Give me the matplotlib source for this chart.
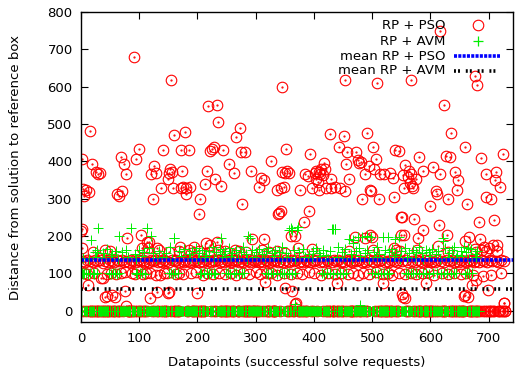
import numpy as np
import matplotlib
matplotlib.use('Agg')
import matplotlib.pyplot as plt

plt.rcParams['font.family'] = ['DejaVu Sans']
plt.rcParams['lines.scale_dashes'] = False

# number of datapoints per series and their means
N_PSO = 730
N_AVM = 685
MEAN_PSO = 136
MEAN_AVM = 59

# RP + PSO: (datapoint, distance), everything not listed sits at 0
pso_high = [
    (0, 214), (1, 406), (2, 218), (3, 327), (6, 307), (8, 324), (14, 317), (15, 482), (19, 392),
    (26, 371), (30, 367), (32, 368), (61, 313), (65, 307), (69, 411), (71, 322), (74, 393),
    (77, 367), (91, 679), (94, 406), (99, 433), (121, 367), (124, 300), (126, 389), (129, 370),
    (138, 329), (141, 430), (149, 352), (151, 369), (153, 379), (154, 618), (157, 372),
    (158, 330), (160, 472), (171, 330), (172, 430), (174, 373), (175, 331), (178, 478),
    (180, 328), (181, 312), (185, 431), (188, 332), (202, 259), (205, 299), (213, 340),
    (216, 373), (218, 548), (221, 428), (225, 433), (228, 438), (231, 352), (234, 551),
    (236, 505), (240, 333), (244, 430), (255, 393), (262, 369), (266, 464), (273, 490),
    (274, 424), (276, 285), (281, 424), (292, 374), (306, 332), (310, 355), (315, 350),
    (327, 401), (336, 324), (338, 259), (340, 263), (343, 330), (344, 267), (345, 598),
    (346, 371), (348, 332), (350, 370), (352, 433), (353, 373), (357, 370), (376, 324),
    (383, 239), (385, 365), (390, 362), (392, 267), (393, 420), (396, 330), (402, 370),
    (403, 374), (404, 352), (407, 345), (408, 372), (409, 324), (411, 365), (413, 380),
    (416, 364), (417, 395), (419, 379), (421, 330), (428, 473), (429, 352), (430, 330),
    (437, 331), (443, 438), (445, 330), (451, 468), (453, 320), (454, 617), (455, 394),
    (457, 424), (460, 352), (472, 424), (475, 403), (477, 397), (481, 399), (482, 300),
    (488, 365), (492, 477), (494, 389), (496, 324), (498, 321), (501, 438), (503, 380),
    (507, 406), (509, 610), (511, 299), (514, 365), (520, 366), (531, 370), (536, 356),
    (537, 305), (540, 430), (547, 427), (549, 251), (551, 250), (553, 363), (555, 328),
    (557, 390), (561, 358), (564, 374), (565, 341), (566, 366), (567, 618), (568, 335),
    (570, 328), (572, 246), (575, 352), (581, 413), (587, 375), (588, 215), (599, 281),
    (605, 386), (610, 322), (611, 314), (615, 229), (616, 750), (617, 365), (623, 551),
    (627, 415), (631, 300), (634, 412), (635, 475), (642, 371), (645, 324), (648, 351),
    (659, 438), (663, 287), (677, 628), (680, 604), (684, 237), (687, 410), (695, 367),
    (696, 305), (704, 299), (709, 242), (711, 351), (713, 371), (720, 331), (724, 421),
]
pso_mid = [
    (1, 168), (21, 158), (41, 162), (49, 159), (79, 194), (103, 202), (104, 168), (113, 183),
    (115, 168), (117, 185), (130, 168), (134, 163), (152, 157), (169, 160), (170, 172),
    (186, 163), (189, 155), (194, 172), (203, 161), (215, 181), (220, 158), (222, 176),
    (233, 185), (235, 163), (248, 159), (254, 156), (265, 163), (271, 160), (283, 158),
    (294, 193), (311, 162), (314, 193), (323, 157), (337, 160), (351, 156), (361, 201),
    (367, 201), (373, 169), (397, 165), (460, 160), (471, 198), (487, 194), (497, 203),
    (500, 198), (502, 163), (538, 167), (541, 163), (548, 159), (550, 202), (554, 204),
    (577, 162), (579, 196), (614, 173), (628, 202), (631, 158), (660, 186), (667, 197),
    (677, 165), (679, 158), (685, 191), (688, 163), (692, 172), (695, 160), (701, 168),
    (707, 176), (714, 160), (715, 177),
]
pso_band = [
    (3, 134), (7, 131), (10, 136), (16, 133), (21, 130), (24, 137), (28, 132), (33, 135),
    (38, 129), (41, 134), (46, 131), (50, 136), (53, 133), (57, 130), (62, 135), (66, 132),
    (70, 137), (73, 131), (78, 134), (83, 130), (86, 136), (90, 133), (95, 131), (98, 135),
    (101, 132), (106, 136), (109, 130), (112, 134), (116, 131), (120, 135), (123, 132),
    (127, 137), (132, 130), (136, 134), (139, 131), (143, 136), (146, 133), (152, 130),
    (156, 135), (161, 132), (164, 137), (167, 131), (173, 134), (177, 130), (179, 136),
    (183, 133), (187, 131), (191, 135), (196, 132), (199, 137), (203, 131), (207, 134),
    (210, 130), (214, 136), (219, 133), (223, 131), (227, 135), (230, 132), (235, 137),
    (238, 130), (242, 134), (246, 131), (250, 136), (253, 133), (257, 130), (260, 135),
    (264, 132), (268, 137), (271, 131), (275, 134), (279, 130), (283, 136), (287, 133),
    (291, 131), (296, 135), (299, 132), (302, 137), (305, 130), (309, 134), (312, 131),
    (317, 136), (320, 133), (324, 130), (328, 135), (331, 132), (335, 137), (339, 131),
    (342, 134), (347, 130), (351, 136), (355, 133), (358, 131), (363, 135), (366, 132),
    (370, 137), (374, 130), (378, 134), (381, 131), (386, 136), (389, 133), (394, 130),
    (398, 135), (401, 132), (405, 137), (410, 131), (414, 134), (418, 130), (422, 136),
    (425, 133), (431, 131), (434, 135), (438, 132), (441, 137), (446, 130), (449, 134),
    (452, 131), (458, 136), (462, 133), (465, 130), (469, 135), (473, 132), (478, 137),
    (483, 131), (486, 134), (490, 130), (493, 136), (499, 133), (504, 131), (508, 135),
    (512, 132), (516, 137), (522, 130), (525, 134), (529, 131), (533, 136), (538, 133),
    (542, 130), (545, 135), (551, 132), (558, 137), (562, 131), (569, 134), (573, 130),
    (577, 136), (582, 133), (585, 131), (590, 135), (594, 132), (597, 137), (601, 130),
    (604, 134), (608, 131), (612, 136), (619, 133), (624, 130), (629, 135), (633, 132),
    (638, 137), (641, 131), (646, 134), (650, 130), (653, 136), (657, 133), (661, 131),
    (665, 135), (669, 132), (672, 137), (675, 130), (679, 134), (683, 131), (689, 136),
    (693, 133), (698, 130), (702, 135), (706, 132), (712, 134), (717, 131), (721, 136),
    (726, 133),
]
pso_hundred = [
    (5, 100), (11, 98), (23, 101), (34, 87), (44, 99), (52, 102), (60, 98), (68, 100),
    (76, 103), (88, 101), (92, 99), (96, 110), (107, 98), (111, 102), (119, 100), (128, 97),
    (135, 96), (142, 101), (147, 101), (163, 99), (169, 102), (176, 98), (189, 100),
    (198, 103), (209, 97), (217, 101), (226, 99), (237, 102), (248, 98), (258, 100),
    (267, 96), (278, 101), (289, 99), (300, 103), (308, 98), (319, 101), (326, 100),
    (337, 97), (349, 102), (360, 99), (371, 101), (380, 98), (391, 103), (400, 100),
    (412, 97), (424, 101), (436, 99), (447, 102), (459, 98), (468, 100), (476, 96),
    (485, 101), (495, 99), (506, 103), (518, 98), (527, 100), (535, 97), (546, 101),
    (557, 99), (566, 102), (576, 98), (586, 100), (596, 103), (607, 97), (620, 101),
    (630, 99), (640, 102), (652, 98), (662, 100), (673, 96), (690, 92), (704, 96), (722, 101),
]
pso_low = [
    (12, 70), (37, 87), (42, 38), (44, 40), (54, 43), (58, 38), (75, 52), (77, 12), (118, 34),
    (130, 49), (150, 47), (151, 49), (200, 47), (316, 78), (351, 61), (362, 52), (368, 19),
    (369, 21), (439, 74), (519, 74), (552, 45), (553, 38), (556, 34), (593, 74), (657, 40),
    (659, 43), (664, 38), (672, 69), (679, 83), (699, 56), (726, 21), (727, 21),
]

# RP + AVM: (datapoint, distance), everything not listed sits at 0
avm_top = [
    (18, 190), (29, 221), (65, 199), (86, 222), (114, 222), (120, 199), (159, 196), (160, 194),
    (241, 195), (286, 199), (290, 194), (357, 216), (361, 223), (362, 216), (371, 216),
    (372, 225), (431, 218), (432, 220), (436, 220), (437, 218), (460, 192), (467, 189),
    (468, 181), (475, 198), (483, 197), (492, 200), (498, 198), (519, 197), (528, 198),
    (539, 193), (546, 198), (621, 194), (622, 186), (641, 172), (664, 168),
]
avm_mid = [
    (24, 158), (28, 163), (37, 155), (45, 166), (54, 152), (60, 160), (71, 157), (78, 164),
    (92, 151), (99, 162), (108, 158), (117, 167), (123, 154), (134, 161), (146, 156),
    (153, 170), (168, 159), (177, 165), (185, 153), (191, 161), (197, 168), (203, 156),
    (208, 163), (215, 150), (220, 159), (227, 172), (232, 157), (238, 165), (242, 152),
    (248, 161), (254, 168), (260, 155), (266, 163), (274, 158), (279, 170), (283, 153),
    (294, 162), (300, 157), (305, 166), (311, 151), (317, 160), (322, 168), (328, 155),
    (334, 163), (340, 158), (346, 171), (352, 154), (365, 162), (374, 157), (381, 165),
    (391, 152), (398, 161), (404, 168), (409, 156), (415, 163), (421, 150), (427, 159),
    (442, 172), (448, 157), (454, 165), (463, 152), (472, 161), (478, 168), (487, 155),
    (491, 163), (503, 158), (508, 170), (512, 153), (523, 162), (529, 157), (535, 166),
    (541, 151), (550, 160), (557, 168), (563, 155), (570, 163), (575, 158), (580, 171),
    (586, 154), (592, 162), (597, 157), (603, 165), (609, 152), (614, 161), (626, 168),
    (632, 156), (637, 163), (645, 150), (652, 159), (657, 172), (661, 157), (670, 165),
    (676, 153), (681, 161),
]
avm_band = [
    (4, 142), (13, 139), (26, 145), (39, 141), (51, 147), (63, 140), (81, 143), (95, 138),
    (104, 146), (128, 141), (141, 144), (156, 139), (172, 147), (188, 142), (201, 140),
    (213, 145), (229, 138), (245, 143), (258, 147), (270, 141), (285, 139), (298, 144),
    (314, 142), (331, 146), (343, 140), (355, 143), (368, 138), (384, 145), (396, 141),
    (411, 147), (425, 139), (439, 144), (451, 142), (466, 140), (480, 146), (495, 138),
    (506, 143), (520, 141), (537, 147), (548, 139), (560, 144), (573, 142), (588, 140),
    (600, 146), (617, 138), (630, 143), (644, 141), (655, 147), (667, 139), (678, 144),
]
avm_hundred = [
    (1, 100), (3, 99), (6, 101), (9, 100), (12, 98), (15, 102), (20, 100), (23, 99), (27, 101),
    (48, 100), (52, 98), (55, 101), (58, 100), (62, 99), (66, 102),
    (94, 101), (97, 99), (101, 100), (105, 102), (110, 98),
    (151, 100), (155, 102), (158, 99), (162, 101), (166, 100),
    (204, 99), (206, 101), (211, 100), (216, 102), (219, 98), (224, 100), (228, 101), (231, 99),
    (249, 100), (252, 102), (256, 99), (262, 101), (267, 100), (271, 98), (276, 101), (280, 100),
    (318, 101), (321, 99), (326, 100), (330, 102), (336, 98), (341, 100), (345, 101),
    (349, 99), (353, 100), (358, 102), (363, 99), (367, 101),
    (414, 100), (418, 99), (423, 101), (428, 100), (433, 98), (440, 102), (445, 100),
    (450, 99), (455, 101),
    (500, 100), (505, 102), (510, 99), (515, 101), (520, 100), (525, 98), (529, 101),
    (558, 100), (562, 99), (566, 101), (571, 100), (576, 102), (581, 98), (587, 100),
    (592, 101), (598, 99), (604, 100), (611, 102), (618, 99), (624, 101), (629, 100),
    (635, 98), (640, 101), (644, 100),
    (660, 99), (663, 101), (667, 100), (671, 102),
]
avm_low = [(368, 19), (480, 15)]


def expand(n, *groups):
    # every datapoint gets its listed values, or 0 when nothing was listed
    vals = {}
    for g in groups:
        for i, v in g:
            vals.setdefault(i, []).append(v)
    xs, ys = [], []
    for i in range(n):
        for v in vals.get(i, [0]):
            xs.append(i)
            ys.append(v)
    return np.array(xs), np.array(ys)


pso_x, pso_y = expand(N_PSO, pso_high, pso_mid, pso_band, pso_hundred, pso_low)
avm_x, avm_y = expand(N_AVM, avm_top, avm_mid, avm_band, avm_hundred, avm_low)

fig = plt.figure(figsize=(5.18, 3.72), dpi=100)
ax = fig.add_axes([81 / 518, 1 - 322 / 372, 432 / 518, 310 / 372])

ax.plot(pso_x, pso_y, ls='none', marker='o', ms=7.6, mfc='none', mec='#ff0000', mew=0.8)
ax.plot(pso_x, pso_y, ls='none', marker='.', ms=1.2, color='#ff0000')
ax.plot(avm_x, avm_y, ls='none', marker='+', ms=7.6, mew=0.7, color='#00ee00')
ax.axhline(MEAN_PSO, color='#0000ff', lw=2.6, dashes=(2.2, 0.9))
ax.axhline(MEAN_AVM, color='black', lw=2.6, dashes=(1.4, 1.5, 1.4, 4.2))

ax.set_xlim(0, 742)
ax.set_ylim(-30, 800)
ax.set_xticks(range(0, 701, 100))
ax.set_yticks(range(0, 801, 100))
ax.tick_params(direction='in', top=True, right=True, length=5, width=0.8, labelsize=9.5)
ax.tick_params(axis='x', pad=7)
ax.tick_params(axis='y', pad=6)
for s in ax.spines.values():
    s.set_linewidth(1.0)

ax.set_xlabel('Datapoints (successful solve requests)', fontsize=9.5, labelpad=8)
ax.set_ylabel('Distance from solution to reference box', fontsize=9.5, labelpad=18)

# key, top right like gnuplot
rows = [0.958, 0.906, 0.858, 0.810]
names = ['RP + PSO', 'RP + AVM', 'mean RP + PSO', 'mean RP + AVM']
for y, name in zip(rows, names):
    ax.text(0.8426, y, name, transform=ax.transAxes, ha='right', va='center', fontsize=9.5, zorder=10)
ax.plot([0.919], [rows[0]], transform=ax.transAxes, ls='none', marker='o', ms=7.6,
        mfc='none', mec='#ff0000', mew=0.8, clip_on=False, zorder=10)
ax.plot([0.919], [rows[1]], transform=ax.transAxes, ls='none', marker='+', ms=7.6,
        mew=0.9, color='#00ee00', clip_on=False, zorder=10)
ax.plot([0.8634, 0.970], [rows[2], rows[2]], transform=ax.transAxes, color='#0000ff',
        lw=2.6, dashes=(2.2, 0.9), zorder=10)
ax.plot([0.8634, 0.970], [rows[3], rows[3]], transform=ax.transAxes, color='black',
        lw=2.6, dashes=(1.4, 1.5, 1.4, 4.2), zorder=10)

fig.savefig('out.png', dpi=100)
